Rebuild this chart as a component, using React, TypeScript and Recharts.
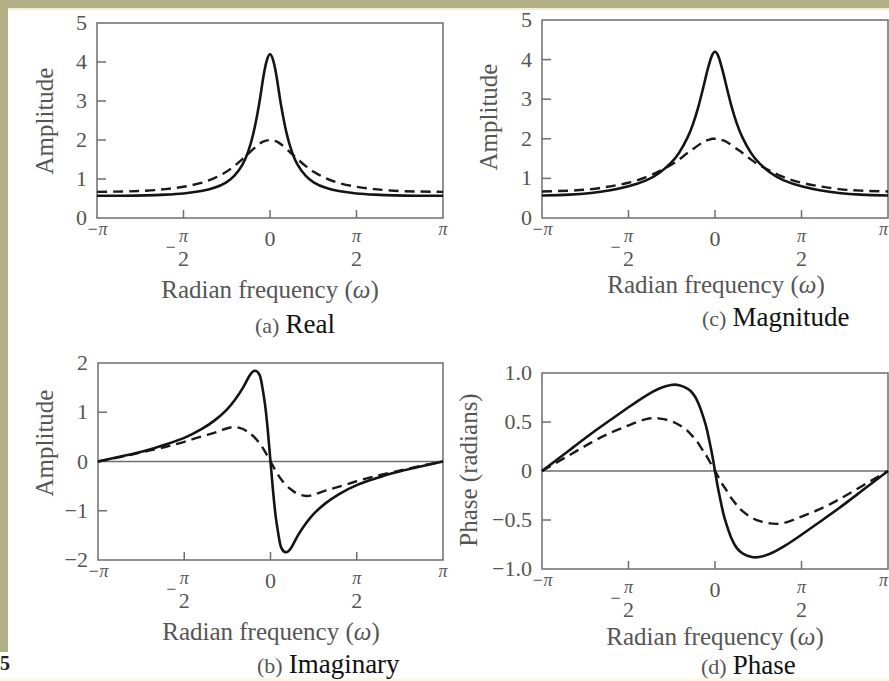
import React from 'react';
import { LineChart, Line, XAxis, YAxis, ReferenceLine, ReferenceArea } from 'recharts';

// radian frequency samples (same grid for every panel)
const omega = [-3.1416, -2.65, -2.25, -1.9, -1.5708, -1.25, -1.0, -0.8, -0.65, -0.5, -0.4, -0.3, -0.2, -0.15, -0.1, -0.05, 0,
  0.05, 0.1, 0.15, 0.2, 0.3, 0.4, 0.5, 0.65, 0.8, 1.0, 1.25, 1.5708, 1.9, 2.25, 2.65, 3.1416];

// (a) real part
const realSolid = [0.57, 0.57, 0.58, 0.60, 0.63, 0.69, 0.78, 0.91, 1.08, 1.37, 1.69, 2.18, 2.90, 3.35, 3.78, 4.08, 4.2,
  4.08, 3.78, 3.35, 2.90, 2.18, 1.69, 1.37, 1.08, 0.91, 0.78, 0.69, 0.63, 0.60, 0.58, 0.57, 0.57];
const realDashed = [0.67, 0.68, 0.70, 0.74, 0.80, 0.90, 1.03, 1.18, 1.33, 1.51, 1.64, 1.77, 1.89, 1.94, 1.97, 1.99, 2.0,
  1.99, 1.97, 1.94, 1.89, 1.77, 1.64, 1.51, 1.33, 1.18, 1.03, 0.90, 0.80, 0.74, 0.70, 0.68, 0.67];

// (b) imaginary part
const imagSolid = [0, 0.12, 0.23, 0.35, 0.48, 0.66, 0.85, 1.05, 1.25, 1.50, 1.71, 1.84, 1.76, 1.52, 1.16, 0.64, 0,
  -0.64, -1.16, -1.52, -1.76, -1.84, -1.71, -1.50, -1.25, -1.05, -0.85, -0.66, -0.48, -0.35, -0.23, -0.12, 0];
const imagDashed = [0, 0.11, 0.21, 0.30, 0.40, 0.51, 0.59, 0.67, 0.70, 0.66, 0.59, 0.50, 0.37, 0.29, 0.20, 0.10, 0,
  -0.10, -0.20, -0.29, -0.37, -0.50, -0.59, -0.66, -0.70, -0.67, -0.59, -0.51, -0.40, -0.30, -0.21, -0.11, 0];

// (c) magnitude
const magSolid = [0.57, 0.59, 0.63, 0.70, 0.80, 0.95, 1.15, 1.39, 1.65, 2.03, 2.37, 2.82, 3.37, 3.66, 3.92, 4.12, 4.2,
  4.12, 3.92, 3.66, 3.37, 2.82, 2.37, 2.03, 1.65, 1.39, 1.15, 0.95, 0.80, 0.70, 0.63, 0.59, 0.57];
const magDashed = [0.67, 0.69, 0.73, 0.80, 0.89, 1.03, 1.19, 1.34, 1.48, 1.64, 1.74, 1.84, 1.93, 1.96, 1.98, 2.0, 2.0,
  2.0, 1.98, 1.96, 1.93, 1.84, 1.74, 1.64, 1.48, 1.34, 1.19, 1.03, 0.89, 0.80, 0.73, 0.69, 0.67];

// (d) phase
const phaseSolid = [0, 0.21, 0.38, 0.52, 0.65, 0.77, 0.845, 0.878, 0.875, 0.84, 0.79, 0.69, 0.53, 0.43, 0.30, 0.16, 0,
  -0.16, -0.30, -0.43, -0.53, -0.69, -0.79, -0.84, -0.875, -0.878, -0.845, -0.77, -0.65, -0.52, -0.38, -0.21, 0];
const phaseDashed = [0, 0.16, 0.29, 0.39, 0.465, 0.53, 0.535, 0.51, 0.47, 0.41, 0.35, 0.28, 0.19, 0.15, 0.10, 0.05, 0,
  -0.05, -0.10, -0.15, -0.19, -0.28, -0.35, -0.41, -0.47, -0.51, -0.535, -0.53, -0.465, -0.39, -0.29, -0.16, 0];

const xTicks = [-3.1416, -1.5708, 0, 1.5708, 3.1416];
const ampTicks = [0, 1, 2, 3, 4, 5];
const imagTicks = [-2, -1, 0, 1, 2];
const phaseTicks = [-1, -0.5, 0, 0.5, 1];
const phaseTickLabels = ['−1.0', '−0.5', '0', '0.5', '1.0'];

const FONT = '"Liberation Serif", "Times New Roman", serif';
const GREY = '#555555';
const FRAME = '#6e6e6e';

const makeXTick = (pageLeft: number) => (props: any) => {
  const { x, y, payload } = props;
  const v = payload.value;
  const neg = v < 0;
  const mark = Math.abs(v) < 3 ? <line x1={x} x2={x} y1={y} y2={y - 8} stroke={FRAME} strokeWidth={1.5} /> : null;
  if (v === 0) {
    return (
      <g>
        {mark}
        <text x={x} y={y + 28} textAnchor="middle" fontSize={22} fill={GREY} fontFamily={FONT}>0</text>
      </g>
    );
  }
  if (Math.abs(v) > 3) {
    // the last label of the right column sits on the page edge
    const atEdge = !neg && pageLeft + x > 880;
    return (
      <text x={atEdge ? x : x} y={y + 17} textAnchor={atEdge ? 'end' : 'middle'} fontSize={18} fontStyle="italic"
        fill={GREY} fontFamily={FONT}>
        {neg ? '−π' : 'π'}
      </text>
    );
  }
  return (
    <g fontFamily={FONT} fill={GREY}>
      {mark}
      {neg && <text x={x - 13} y={y + 35} textAnchor="middle" fontSize={18}>−</text>}
      <text x={x} y={y + 24} textAnchor="middle" fontSize={18} fontStyle="italic">π</text>
      <text x={x} y={y + 48} textAnchor="middle" fontSize={22}>2</text>
    </g>
  );
};

const makeYTick = (ticks: number[], labels: string[]) => (props: any) => {
  const { x, y, payload } = props;
  const v = payload.value;
  const i = ticks.indexOf(v);
  const inner = i > 0 && i < ticks.length - 1 && v !== 0;
  return (
    <g>
      {inner && <line x1={x} x2={x + 9} y1={y} y2={y} stroke={FRAME} strokeWidth={1.5} />}
      <text x={x - 10} y={y + 7} textAnchor="end" fontSize={22} fill={GREY} fontFamily={FONT}>
        {labels[i]}
      </text>
    </g>
  );
};

type PanelProps = {
  left: number;
  top: number;
  width: number;
  height: number;
  margin: { top: number; right: number; left: number; bottom: number };
  solid: number[];
  dashed: number[];
  yTicks: number[];
  yLabels: string[];
  zeroLine?: boolean;
};

const Panel = ({ left, top, width, height, margin, solid, dashed, yTicks, yLabels, zeroLine }: PanelProps) => {
  const data = omega.map((w, i) => ({ w, solid: solid[i], dashed: dashed[i] }));
  const yMin = yTicks[0];
  const yMax = yTicks[yTicks.length - 1];
  return (
    <div style={{ position: 'absolute', left, top }}>
      <LineChart width={width} height={height} data={data} margin={margin}>
        <XAxis dataKey="w" type="number" domain={[-3.1416, 3.1416]} ticks={xTicks} interval={0}
          tick={makeXTick(left)} tickLine={false} axisLine={false} tickSize={0} tickMargin={0} height={60} />
        <YAxis type="number" domain={[yMin, yMax]} ticks={yTicks} interval={0} width={60}
          tick={makeYTick(yTicks, yLabels)} tickLine={false} axisLine={false} tickSize={0} tickMargin={0} />
        {zeroLine && <ReferenceLine y={0} stroke={FRAME} strokeWidth={1.5} />}
        <ReferenceArea x1={-3.1416} x2={3.1416} y1={yMin} y2={yMax} fill="none" fillOpacity={0}
          stroke={FRAME} strokeWidth={1.5} />
        <Line type="natural" dataKey="dashed" stroke="#1a1a1a" strokeWidth={2.4} strokeDasharray="10 6"
          dot={false} isAnimationActive={false} />
        <Line type="natural" dataKey="solid" stroke="#141414" strokeWidth={2.6}
          dot={false} isAnimationActive={false} />
      </LineChart>
    </div>
  );
};

const YTitle = ({ x, y, text }: { x: number; y: number; text: string }) => (
  <text x={x} y={y} transform={`rotate(-90 ${x} ${y})`} textAnchor="middle" dominantBaseline="central"
    fontSize={25} fill={GREY} fontFamily={FONT}>{text}</text>
);

const XTitle = ({ x, y }: { x: number; y: number }) => (
  <text x={x} y={y} textAnchor="middle" fontSize={25} fill={GREY} fontFamily={FONT}>
    Radian frequency (<tspan fontStyle="italic">ω</tspan>)
  </text>
);

const Caption = ({ x, y, tag, word }: { x: number; y: number; tag: string; word: string }) => (
  <text x={x} y={y} fontFamily={FONT}>
    <tspan fontSize={22} fill={GREY}>{tag}</tspan>
    <tspan dx={6} fontSize={27} fill="#111">{word}</tspan>
  </text>
);

const App = () => {
  const ampLabels = ampTicks.map(String);
  const imagLabels = imagTicks.map(v => (v < 0 ? '−' + Math.abs(v) : String(v)));
  return (
    <div style={{ position: 'absolute', left: 0, top: 0, width: 889, height: 681, background: '#ffffff', overflow: 'hidden' }}>
      <style>{'.recharts-wrapper svg { overflow: visible; }'}</style>
      <div style={{ position: 'absolute', left: 0, top: 0, width: 889, height: 8, background: '#b2af87' }} />
      <div style={{ position: 'absolute', left: 0, top: 8, width: 889, height: 2, background: '#f1efd6' }} />
      <div style={{ position: 'absolute', left: 0, top: 0, width: 8, height: 652, background: '#b2af87' }} />
      <div style={{ position: 'absolute', left: 0, top: 678, width: 889, height: 3, background: '#fbf9e4' }} />

      <Panel left={0} top={0} width={444} height={340} margin={{ top: 23, right: 1, left: 37, bottom: 62 }}
        solid={realSolid} dashed={realDashed} yTicks={ampTicks} yLabels={ampLabels} />
      <Panel left={444} top={0} width={445} height={340} margin={{ top: 20, right: 1, left: 38, bottom: 62 }}
        solid={magSolid} dashed={magDashed} yTicks={ampTicks} yLabels={ampLabels} />
      <Panel left={0} top={340} width={444} height={341} margin={{ top: 23, right: 1, left: 38, bottom: 61 }}
        solid={imagSolid} dashed={imagDashed} yTicks={imagTicks} yLabels={imagLabels} zeroLine />
      <Panel left={444} top={340} width={445} height={341} margin={{ top: 33, right: 1, left: 38, bottom: 52 }}
        solid={phaseSolid} dashed={phaseDashed} yTicks={phaseTicks} yLabels={phaseTickLabels} zeroLine />

      <svg width={889} height={681} style={{ position: 'absolute', left: 0, top: 0, pointerEvents: 'none' }}>
        <YTitle x={44} y={121} text="Amplitude" />
        <YTitle x={488} y={117} text="Amplitude" />
        <YTitle x={44} y={443} text="Amplitude" />
        <YTitle x={468} y={470} text="Phase (radians)" />
        <XTitle x={270} y={298} />
        <XTitle x={716} y={293} />
        <XTitle x={271} y={640} />
        <XTitle x={715} y={645} />
        <Caption x={255} y={333} tag="(a)" word="Real" />
        <Caption x={702} y={326} tag="(c)" word="Magnitude" />
        <Caption x={257} y={673} tag="(b)" word="Imaginary" />
        <Caption x={701} y={674} tag="(d)" word="Phase" />
        <text x={0} y={670} fontSize={20} fontWeight="bold" fill="#222" fontFamily={FONT}>5</text>
      </svg>
    </div>
  );
};

export default App;
